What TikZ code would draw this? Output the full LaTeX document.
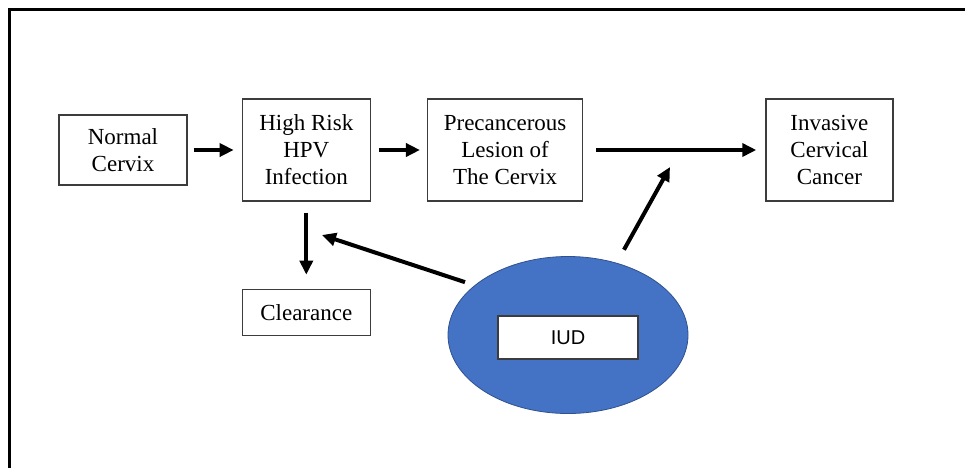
\documentclass[tikz,border=0pt]{standalone}
\usepackage{fontspec}
\setmainfont{Liberation Serif}
\newfontfamily\iudfont{Liberation Sans}
\usetikzlibrary{positioning,shapes.geometric,arrows.meta}
\definecolor{boxgray}{HTML}{3C3C3C}
\definecolor{iudblue}{HTML}{4472C4}
\definecolor{iudedge}{HTML}{2F528F}
\tikzset{
  stage/.style={draw=boxgray, line width=1.3pt, align=center, inner sep=0pt, font=\fontsize{23}{27}\selectfont},
  flow/.style={line width=4pt, -{Triangle[length=14pt,width=13pt]}}
}

\begin{document}
\begin{tikzpicture}[x=1pt,y=-1pt]
\useasboundingbox (0,0) rectangle (965,467);
\draw[line width=3pt] (9.5,470) -- (9.5,9.5) -- (970,9.5);
\node[stage, minimum width=128pt, minimum height=70pt](norm) at (123,150){Normal\\Cervix};
\node[stage, minimum width=128pt, minimum height=102pt, right=54pt of norm](hpv){High Risk\\HPV\\Infection};
\node[stage, minimum width=155pt, minimum height=102pt, right=56pt of hpv](pre){Precancerous\\Lesion of\\The Cervix};
\node[stage, minimum width=127pt, minimum height=102pt, right=182pt of pre](inv){Invasive\\Cervical\\Cancer};
\node[stage, minimum width=128pt, minimum height=46pt, below=87pt of hpv](clr){Clearance};
\node[ellipse, draw=iudedge, fill=iudblue, line width=0.8pt, minimum width=240pt, minimum height=157pt, inner sep=0pt](iud) at (568,335){};
\node[draw=boxgray, line width=1.3pt, fill=white, minimum width=140pt, minimum height=43pt, font=\iudfont\fontsize{20}{24}\selectfont](iudtag) at (568,337.5){IUD};
\coordinate (hpvin) at (322,235);
\coordinate (precin) at (670,167);
\draw[flow, shorten <=6pt, shorten >=8pt] (norm) -- (hpv);
\draw[flow, shorten <=8pt, shorten >=7pt] (hpv) -- (pre);
\draw[flow, shorten <=13pt, shorten >=9pt] (pre) -- (inv);
\draw[flow, shorten <=11pt, shorten >=14pt] (hpv) -- (clr);
\draw[flow, shorten <=10pt] (iud.152) -- (hpvin);
\draw[flow, shorten <=15pt] (iud.56) -- (precin);
\end{tikzpicture}
\end{document}
